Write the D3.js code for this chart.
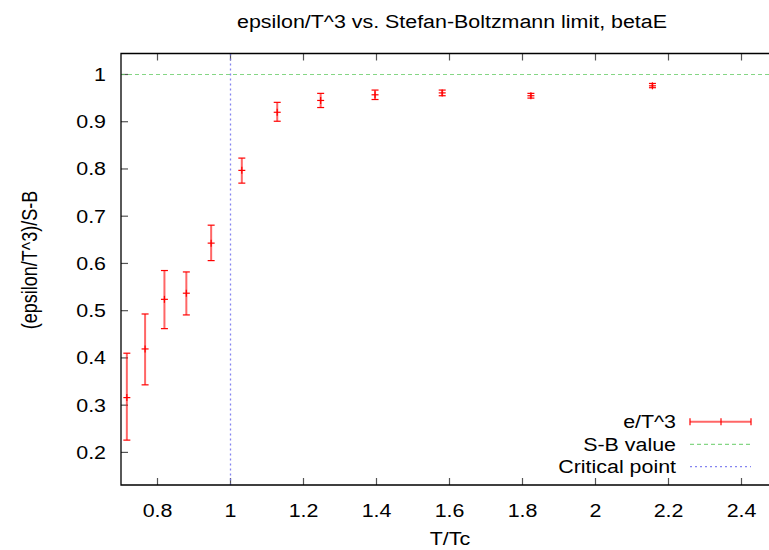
<!DOCTYPE html>
<html><head><meta charset="utf-8">
<script src="https://cdn.jsdelivr.net/npm/d3@7"></script>
<style>
body{margin:0;background:#fff;}
svg{display:block;}
text{font-family:"Liberation Sans",Arial,Helvetica,sans-serif;fill:#000;}
</style></head>
<body><svg id="c" width="769" height="550"></svg>
<script>
const T = [0.716, 0.766, 0.819, 0.879, 0.947, 1.031, 1.128, 1.247, 1.396, 1.580, 1.823, 2.156];
const ratio = [0.316, 0.419, 0.524, 0.537, 0.643, 0.797, 0.920, 0.945, 0.957, 0.961, 0.955, 0.976];
const errLow = [0.226, 0.343, 0.462, 0.491, 0.606, 0.770, 0.901, 0.930, 0.947, 0.955, 0.950, 0.972];
const errHigh = [0.410, 0.493, 0.585, 0.582, 0.681, 0.823, 0.941, 0.960, 0.967, 0.967, 0.960, 0.981];
const xTicks = [0.8, 1, 1.2, 1.4, 1.6, 1.8, 2, 2.2, 2.4];
const yTicks = [0.2, 0.3, 0.4, 0.5, 0.6, 0.7, 0.8, 0.9, 1];
const sbValue = 1;
const criticalT = 1;
const legendLabels = ["e/T^3", "S-B value", "Critical point"];

const svg = d3.select("#c");
const L = 121, R = 778, Tp = 53.5, B = 485;
const x = d3.scaleLinear().domain([0.7, 2.5]).range([L, R]);
const y = d3.scaleLinear().domain([0.131, 1.0444]).range([B, Tp]);
const FS = 18, SX = 1.19;

function txt(px, py, s, anchor, rot) {
  const t = svg.append("text")
    .attr("transform", rot ? `translate(${px},${py}) rotate(-90) scale(1,${SX})` : `translate(${px},${py}) scale(${SX},1)`)
    .attr("text-anchor", anchor).attr("font-size", FS).text(s);
  return t;
}

// ticks (inside, mirrored on top)
const tickLen = 7;
const g = svg.append("g");
xTicks.forEach(v => {
  g.append("line").attr("x1", x(v)).attr("x2", x(v)).attr("y1", B).attr("y2", B - tickLen).attr("stroke", "#555").attr("stroke-width", 1.2);
  g.append("line").attr("x1", x(v)).attr("x2", x(v)).attr("y1", Tp).attr("y2", Tp + tickLen).attr("stroke", "#555").attr("stroke-width", 1.2);
  txt(x(v), 517, d3.format("")(v), "middle");
});
yTicks.forEach(v => {
  g.append("line").attr("x1", L).attr("x2", L + tickLen).attr("y1", y(v)).attr("y2", y(v)).attr("stroke", "#555").attr("stroke-width", 1.2);
  txt(106, y(v) + 6.5, d3.format("")(v), "end");
});

// S-B line
svg.append("line").attr("x1", L).attr("x2", R).attr("y1", y(sbValue)).attr("y2", y(sbValue))
  .attr("stroke", "#6c6").attr("stroke-opacity", 0.8).attr("stroke-width", 1.2).attr("stroke-dasharray", "4,3");
// Critical line
svg.append("line").attr("x1", x(criticalT)).attr("x2", x(criticalT)).attr("y1", Tp).attr("y2", B)
  .attr("stroke", "#77e").attr("stroke-opacity", 0.9).attr("stroke-width", 1.3).attr("stroke-dasharray", "2,3");

// error bars
const red = "#f00";
const cap = 3.5, cw = 3.5;
const eb = svg.append("g").attr("stroke", red).attr("stroke-width", 1.2);
T.forEach((t, i) => {
  const cx = x(t);
  eb.append("line").attr("x1", cx).attr("x2", cx).attr("y1", y(errLow[i])).attr("y2", y(errHigh[i])).attr("stroke-opacity", 0.6).attr("stroke-width", 2);
  eb.append("line").attr("x1", cx - cap).attr("x2", cx + cap).attr("y1", y(errLow[i])).attr("y2", y(errLow[i]));
  eb.append("line").attr("x1", cx - cap).attr("x2", cx + cap).attr("y1", y(errHigh[i])).attr("y2", y(errHigh[i]));
  eb.append("line").attr("x1", cx - cw).attr("x2", cx + cw).attr("y1", y(ratio[i])).attr("y2", y(ratio[i]));
  eb.append("line").attr("x1", cx).attr("x2", cx).attr("y1", y(ratio[i]) - cw).attr("y2", y(ratio[i]) + cw);
});

// frame
svg.append("path").attr("d", `M${L},${Tp} L${R},${Tp} L${R},${B} L${L},${B} Z`).attr("fill", "none").attr("stroke", "#000").attr("stroke-width", 1.3);

// title & labels
txt(452, 28, "epsilon/T^3 vs. Stefan-Boltzmann limit, betaE", "middle");
txt(450, 545, "T/Tc", "middle");
txt(37, 260, "(epsilon/T^3)/S-B", "middle", true);

// legend
const lx1 = 690, lx2 = 751, ltx = 676;
const ly = [421.7, 444.3, 466.7];
legendLabels.forEach((s, i) => txt(ltx, ly[i] + 6.5, s, "end"));
svg.append("line").attr("x1", lx1).attr("x2", lx2).attr("y1", ly[0]).attr("y2", ly[0]).attr("stroke", red).attr("stroke-opacity", 0.6).attr("stroke-width", 2);
[lx1, lx2].forEach(v => svg.append("line").attr("x1", v).attr("x2", v).attr("y1", ly[0] - cap).attr("y2", ly[0] + cap).attr("stroke", red).attr("stroke-width", 1.2));
svg.append("line").attr("x1", 721).attr("x2", 721).attr("y1", ly[0] - cw).attr("y2", ly[0] + cw).attr("stroke", red).attr("stroke-width", 1.2);
svg.append("line").attr("x1", lx1).attr("x2", lx2).attr("y1", ly[1]).attr("y2", ly[1]).attr("stroke", "#6c6").attr("stroke-opacity", 0.8).attr("stroke-width", 1.2).attr("stroke-dasharray", "4,3");
svg.append("line").attr("x1", lx1).attr("x2", lx2).attr("y1", ly[2]).attr("y2", ly[2]).attr("stroke", "#77e").attr("stroke-opacity", 0.9).attr("stroke-width", 1.3).attr("stroke-dasharray", "2,3");
</script></body></html>
